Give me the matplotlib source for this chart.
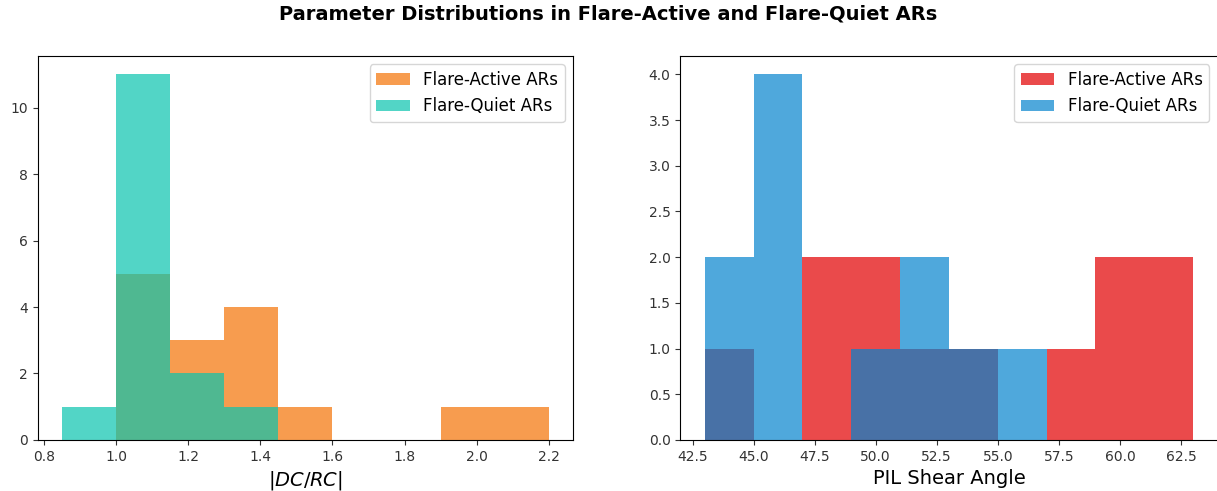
"""
parameter distributions (|DC/RC| and PIL shear angle) for flare-active vs flare-quiet ARs
"""
import numpy as np
import matplotlib
matplotlib.use("Agg")
import matplotlib.pyplot as plt

# |DC/RC| histograms (bin edges + counts)
dcrc_active_edges  = [1.00, 1.15, 1.30, 1.45, 1.60, 1.75, 1.90, 2.05, 2.20]
dcrc_active_counts = [5, 3, 4, 1, 0, 0, 1, 1]
dcrc_quiet_edges   = [0.85, 1.00, 1.15, 1.30, 1.45]
dcrc_quiet_counts  = [1, 11, 2, 1]

# PIL shear angle histograms
shear_active_edges  = [43, 45, 47, 49, 51, 53, 55, 57, 59, 61, 63]
shear_active_counts = [1, 0, 2, 2, 1, 1, 0, 1, 2, 2]
shear_quiet_edges   = [43, 45, 47, 49, 51, 53, 55, 57]
shear_quiet_counts  = [2, 4, 0, 1, 2, 1, 1]

labels = ["Flare-Active ARs", "Flare-Quiet ARs"]


def centers(edges):
    e = np.asarray(edges, dtype=float)
    return (e[:-1] + e[1:]) / 2


fig = plt.figure(figsize=(12.17, 4.91), dpi=100)
ax1 = fig.add_axes([0.0312, 0.1039, 0.4396, 0.782])
ax2 = fig.add_axes([0.5590, 0.1039, 0.4415, 0.782])

# Left: |DC/RC|
ax1.hist(centers(dcrc_active_edges), bins=dcrc_active_edges, weights=dcrc_active_counts,
         color="#f57304", alpha=0.7, label=labels[0])
ax1.hist(centers(dcrc_quiet_edges), bins=dcrc_quiet_edges, weights=dcrc_quiet_counts,
         color="#08c4ae", alpha=0.7, label=labels[1])
ax1.set_xlabel(r"$|DC/RC|$", fontsize=14)
ax1.legend(loc="upper right", fontsize=12)

# Right: PIL shear angle
ax2.hist(centers(shear_active_edges), bins=shear_active_edges, weights=shear_active_counts,
         color="#e51d1e", alpha=0.8, label=labels[0])
ax2.hist(centers(shear_quiet_edges), bins=shear_quiet_edges, weights=shear_quiet_counts,
         color="#0483ce", alpha=0.7, label=labels[1])
ax2.set_xlabel("PIL Shear Angle", fontsize=14)
ax2.legend(loc="upper right", fontsize=12)

for ax in (ax1, ax2):
    ax.tick_params(labelsize=10, colors="#333333")

fig.suptitle("Parameter Distributions in Flare-Active and Flare-Quiet ARs",
             fontsize=14, fontweight="bold", y=0.99)

fig.savefig("out.png", dpi=100)
